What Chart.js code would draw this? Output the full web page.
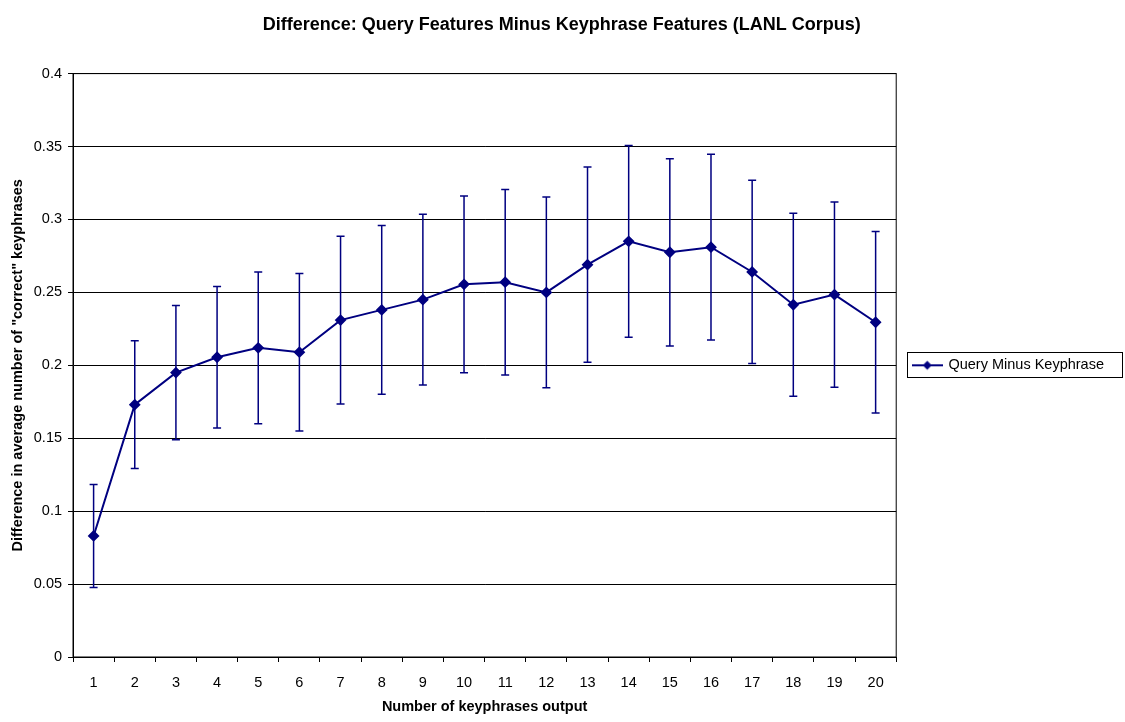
<!DOCTYPE html>
<html>
<head>
<meta charset="utf-8">
<script src="https://cdn.jsdelivr.net/npm/chart.js@4.4.1/dist/chart.umd.min.js"></script>
<style>
  body { margin: 0; background: #fff; }
  #wrap { width: 1125px; height: 722px; }
</style>
</head>
<body>
<div id="wrap"><canvas id="diff-chart" width="1125" height="722"></canvas></div>
<script>
const categories = ['1', '2', '3', '4', '5', '6', '7', '8', '9', '10',
  '11', '12', '13', '14', '15', '16', '17', '18', '19', '20'];

// mean difference per number of keyphrases output
const queryMinusKeyphrase = [0.083, 0.173, 0.195, 0.2055, 0.212, 0.209, 0.231, 0.238, 0.245, 0.2555,
  0.257, 0.250, 0.269, 0.285, 0.2775, 0.281, 0.264, 0.2415, 0.2485, 0.2295];

// half width of the error bars
const errorSize = [0.0353, 0.0438, 0.046, 0.0485, 0.052, 0.054, 0.0575, 0.0578, 0.0585, 0.0606,
  0.0636, 0.0654, 0.0669, 0.0657, 0.0642, 0.0637, 0.0628, 0.0628, 0.0635, 0.0622];

const yTickLabels = ['0', '0.05', '0.1', '0.15', '0.2', '0.25', '0.3', '0.35', '0.4'];

const navy = '#000080';
const font = 'Liberation Sans, Arial, sans-serif';

// little line + diamond used as the legend marker
const legendMarker = document.createElement('canvas');
legendMarker.width = 31;
legendMarker.height = 12;
(function () {
  const c = legendMarker.getContext('2d');
  c.strokeStyle = navy;
  c.lineWidth = 2;
  c.beginPath();
  c.moveTo(0, 6);
  c.lineTo(31, 6);
  c.stroke();
  c.fillStyle = navy;
  c.beginPath();
  c.moveTo(15.5, 1.5);
  c.lineTo(20, 6);
  c.lineTo(15.5, 10.5);
  c.lineTo(11, 6);
  c.closePath();
  c.fill();
})();

const plotFrame = {
  id: 'plotFrame',
  beforeDatasetsDraw(chart) {
    const a = chart.chartArea;
    const ctx = chart.ctx;
    ctx.save();
    ctx.strokeStyle = '#000';
    ctx.lineWidth = 1;
    ctx.strokeRect(a.left, a.top, a.right - a.left, a.bottom - a.top);
    ctx.restore();
  }
};

const errorBars = {
  id: 'errorBars',
  beforeDatasetsDraw(chart) {
    const ctx = chart.ctx;
    const x = chart.scales.x;
    const y = chart.scales.y;
    ctx.save();
    ctx.strokeStyle = navy;
    ctx.lineWidth = 1.5;
    queryMinusKeyphrase.forEach((v, i) => {
      const px = x.getPixelForValue(i);
      const top = y.getPixelForValue(v + errorSize[i]);
      const bot = y.getPixelForValue(v - errorSize[i]);
      ctx.beginPath();
      ctx.moveTo(px, top);
      ctx.lineTo(px, bot);
      ctx.moveTo(px - 4, top);
      ctx.lineTo(px + 4, top);
      ctx.moveTo(px - 4, bot);
      ctx.lineTo(px + 4, bot);
      ctx.stroke();
    });
    ctx.restore();
  }
};

const legendBorder = {
  id: 'legendBorder',
  afterDraw(chart) {
    const box = chart.legend.legendHitBoxes[0];
    if (!box) return;
    const ctx = chart.ctx;
    const cy = box.top + box.height / 2;
    ctx.save();
    ctx.strokeStyle = '#000';
    ctx.lineWidth = 1;
    ctx.strokeRect(Math.round(box.left - 6) + 0.5, Math.round(cy - 13) + 0.5, Math.round(box.width + 24), 25);
    ctx.restore();
  }
};

const ctx = document.getElementById('diff-chart').getContext('2d');
const myChart = new Chart(ctx, {
  type: 'line',
  data: {
    labels: categories,
    datasets: [{
      label: 'Query Minus Keyphrase',
      data: queryMinusKeyphrase,
      borderColor: navy,
      backgroundColor: navy,
      borderWidth: 2,
      pointStyle: 'rectRot',
      pointRadius: 4.5,
      pointBackgroundColor: navy,
      pointBorderColor: navy,
      tension: 0,
      fill: false
    }]
  },
  options: {
    responsive: false,
    animation: false,
    layout: { padding: { top: 0, left: 9.5, right: 11, bottom: 0 } },
    plugins: {
      title: {
        display: true,
        text: 'Difference: Query Features Minus Keyphrase Features (LANL Corpus)',
        color: '#000',
        font: { family: font, size: 18, weight: 'bold' },
        padding: { top: 14, bottom: 38 }
      },
      legend: {
        position: 'right',
        fullSize: false,
        labels: {
          color: '#000',
          font: { family: font, size: 14.5 },
          padding: 17,
          usePointStyle: true,
          pointStyleWidth: 28,
          generateLabels(chart) {
            const items = Chart.defaults.plugins.legend.labels.generateLabels(chart);
            items.forEach(item => { item.pointStyle = legendMarker; });
            return items;
          }
        }
      },
      tooltip: { enabled: false }
    },
    scales: {
      x: {
        offset: true,
        grid: {
          display: true,
          offset: true,
          drawOnChartArea: false,
          drawTicks: true,
          tickLength: 5,
          color: '#000'
        },
        border: { color: '#000' },
        ticks: {
          color: '#000',
          font: { family: font, size: 14.5 },
          padding: 12,
          maxRotation: 0,
          autoSkip: false
        },
        title: {
          display: true,
          text: 'Number of keyphrases output',
          color: '#000',
          font: { family: font, size: 14.5, weight: 'bold' },
          padding: { top: -5.6, bottom: 6.8 }
        }
      },
      y: {
        min: 0,
        max: 0.4,
        grid: {
          color: '#000',
          tickLength: 5,
          drawTicks: true
        },
        border: { color: '#000' },
        ticks: {
          stepSize: 0.05,
          color: '#000',
          font: { family: font, size: 14.5 },
          padding: 6,
          callback: function (value, index) {
            return yTickLabels[index];
          }
        },
        title: {
          display: true,
          text: 'Difference in average number of "correct" keyphrases',
          color: '#000',
          font: { family: font, size: 14.5, weight: 'bold' },
          padding: { top: 0, bottom: 0.9 }
        }
      }
    }
  },
  plugins: [plotFrame, errorBars, legendBorder]
});
</script>
</body>
</html>
